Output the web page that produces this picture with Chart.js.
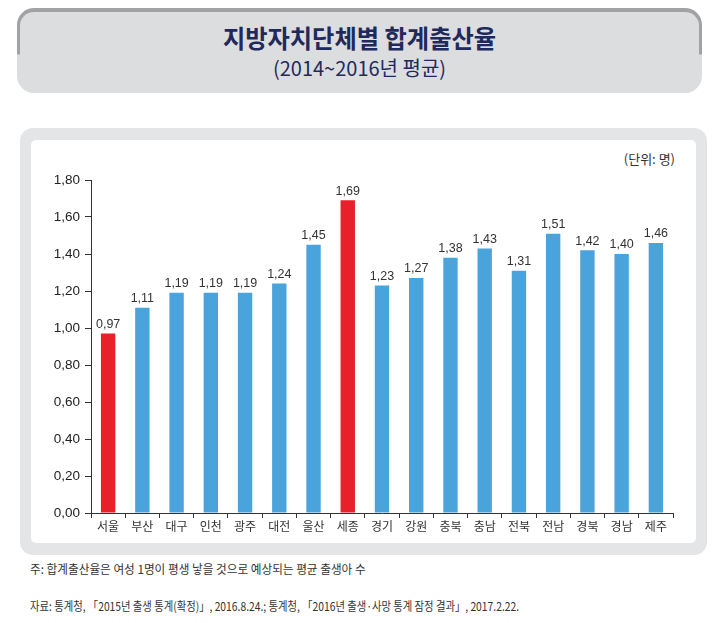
<!DOCTYPE html>
<html>
<head>
<meta charset="utf-8">
<script src="https://cdn.jsdelivr.net/npm/chart.js@4"></script>
<style>
  html, body { margin:0; padding:0; background:#fff; }
  body { width:723px; height:623px; position:relative; overflow:hidden; font-family:"Noto Sans CJK KR", sans-serif; }
  #titleOuter { position:absolute; left:17px; top:8px; width:685px; height:85px; border-radius:17px;
    background:linear-gradient(to bottom, #a2a2a4 0px, #a2a2a4 46px, #dcdddf 47px, #dcdddf 100%); }
  #titleInner { position:absolute; left:3px; top:4px; right:3px; bottom:0; border-radius:14px; background:#dcdddf; }
  .tline { position:absolute; left:0; right:0; text-align:center; color:#1f2a5c; white-space:nowrap; }
  #t1 { top:7px; font-size:25px; font-weight:700; transform:scaleX(0.97); }
  #t2 { top:41px; font-size:20px; font-weight:400; font-family:"Liberation Sans Narrow","Noto Sans CJK KR",sans-serif; }
  #frame { position:absolute; left:20px; top:128px; width:687px; height:427px; border-radius:13px; background:#e4e5e7; }
  #panel { position:absolute; left:31px; top:140px; width:665px; height:403px; border-radius:5px; background:#fff; }
  #unit { position:absolute; right:48px; top:149px; font-size:13px; color:#333; white-space:nowrap; }
  .note { position:absolute; left:30px; font-size:12px; color:#333; white-space:nowrap; transform-origin:left center; }
  #n1 { top:560px; transform:scaleX(0.97); }
  #n2 { top:597px; transform:scaleX(0.86); }
  #c { position:absolute; left:0; top:0; }
</style>
</head>
<body>
<div id="titleOuter"><div id="titleInner">
  <div class="tline" id="t1">지방자치단체별 합계출산율</div>
  <div class="tline" id="t2">(2014~2016년 평균)</div>
</div></div>
<div id="frame"></div>
<div id="panel"></div>
<div id="unit">(단위: 명)</div>
<div class="note" id="n1">주: 합계출산율은 여성 1명이 평생 낳을 것으로 예상되는 평균 출생아 수</div>
<div class="note" id="n2">자료: 통계청, 「2015년 출생 통계(확정)」, 2016.8.24.; 통계청, 「2016년 출생·사망 통계 잠정 결과」, 2017.2.22.</div>
<canvas id="c" width="723" height="623"></canvas>
<script>
const categories = ["서울","부산","대구","인천","광주","대전","울산","세종","경기","강원","충북","충남","전북","전남","경북","경남","제주"];
const values = [0.97,1.11,1.19,1.19,1.19,1.24,1.45,1.69,1.23,1.27,1.38,1.43,1.31,1.51,1.42,1.40,1.46];
const highlighted = ["서울","세종"];
const yTicks = [0,0.2,0.4,0.6,0.8,1.0,1.2,1.4,1.6,1.8];

const BLUE = "#4ba3dc", RED = "#e8202a";
const NUMFONT = '"Liberation Sans Narrow","Arial Narrow","Liberation Sans",sans-serif';
const fmt = v => Number(v).toFixed(2).replace('.', ',');

const labelPlugin = {
  id: 'valueLabels',
  afterDatasetsDraw(chart) {
    const ctx = chart.ctx;
    const meta = chart.getDatasetMeta(0);
    ctx.save();
    ctx.font = '12.5px ' + NUMFONT;
    ctx.fillStyle = '#333';
    ctx.textAlign = 'center';
    ctx.textBaseline = 'bottom';
    meta.data.forEach((bar, i) => {
      ctx.fillText(fmt(values[i]), bar.x, bar.y - 3);
    });
    ctx.restore();
  }
};

new Chart(document.getElementById('c'), {
  type: 'bar',
  data: {
    labels: categories,
    datasets: [{
      data: values,
      backgroundColor: categories.map(c => highlighted.includes(c) ? RED : BLUE),
      borderWidth: 0,
      barPercentage: 0.42,
      categoryPercentage: 1.0
    }]
  },
  options: {
    responsive: false,
    animation: false,
    events: [],
    layout: { padding: { left: 0, top: 180, right: 50, bottom: 0 } },
    plugins: { legend: { display: false }, tooltip: { enabled: false } },
    scales: {
      x: {
        offset: true,
        grid: { display: true, drawOnChartArea: false, drawTicks: true, tickLength: 5, color: '#333', offset: true, lineWidth: 1 },
        border: { display: true, color: '#333', width: 1 },
        ticks: { color: '#333', font: { size: 12, family: '"Noto Sans CJK KR", sans-serif' }, padding: 1, maxRotation: 0, autoSkip: false },
        afterFit(s) { s.height = 110; }
      },
      y: {
        min: 0, max: 1.8,
        afterBuildTicks(s) { s.ticks = yTicks.map(v => ({ value: v })); },
        grid: { display: true, drawOnChartArea: false, drawTicks: true, tickLength: 6, color: '#333' },
        border: { display: true, color: '#333', width: 1 },
        ticks: { color: '#222', font: { size: 13.5, family: NUMFONT }, padding: 5, callback: v => fmt(v) },
        afterFit(s) { s.width = 91; }
      }
    }
  },
  plugins: [labelPlugin]
});
</script>
</body>
</html>
